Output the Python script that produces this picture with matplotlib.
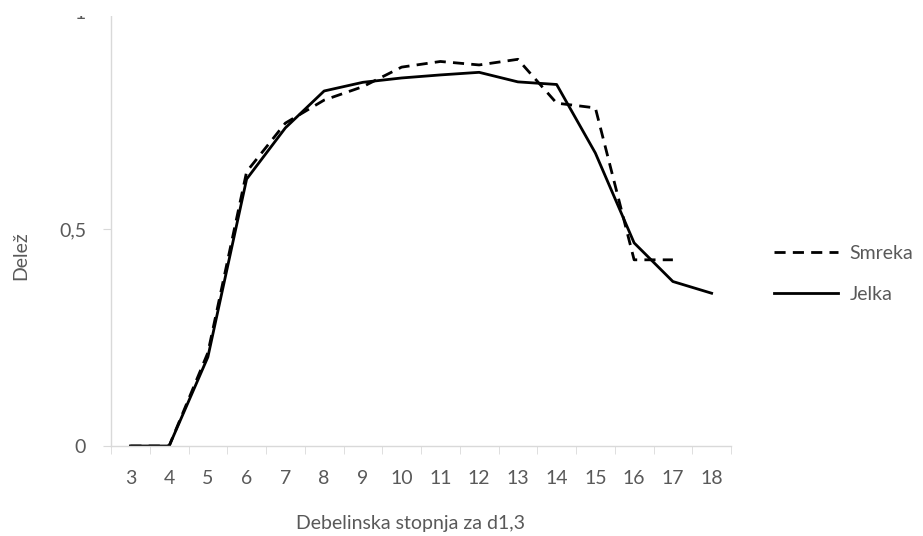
import numpy as np
import matplotlib.pyplot as plt
from matplotlib.patches import Rectangle

plt.rcParams['font.family'] = ['Lato', 'DejaVu Sans']

# Data
categories = ['3', '4', '5', '6', '7', '8', '9', '10', '11', '12', '13', '14', '15', '16', '17', '18']
smreka = [0.0, 0.0, 0.215, 0.632, 0.744, 0.797, 0.828, 0.873, 0.886, 0.878, 0.891, 0.790, 0.779, 0.429, 0.429]
jelka = [0.0, 0.0, 0.205, 0.615, 0.733, 0.818, 0.838, 0.848, 0.855, 0.861, 0.839, 0.833, 0.675, 0.468, 0.379, 0.352]
y_ticks = [0, 0.5, 1]
y_tick_labels = ['0', '0,5', '1']

W, H = 923, 536
fig = plt.figure(figsize=(W / 100, H / 100), dpi=100)
ax = fig.add_axes([111 / W, 1 - 446 / H, (731 - 111) / W, (446 - 12) / H])

x = np.arange(len(categories))
ax.plot(x[:len(smreka)], smreka, color='black', lw=2.0, ls=(0, (4, 2.6)), label='Smreka')
ax.plot(x[:len(jelka)], jelka, color='black', lw=2.0, label='Jelka')

ax.set_xlim(-0.5, len(categories) - 0.5)
ax.set_ylim(0, 1)

grey_axis = '#d9d9d9'
grey_text = '#595959'
for side in ['top', 'right']:
    ax.spines[side].set_visible(False)
for side in ['left', 'bottom']:
    ax.spines[side].set_color(grey_axis)
    ax.spines[side].set_linewidth(1.0)

ax.set_xticks(x)
ax.set_xticklabels(categories)
ax.set_xticks(np.arange(-0.5, len(categories)), minor=True)
ax.tick_params(axis='x', which='major', length=0, pad=17, labelsize=14, labelcolor=grey_text)
ax.tick_params(axis='x', which='minor', length=6, color=grey_axis, direction='out')
ax.set_yticks(y_ticks)
ax.set_yticklabels(y_tick_labels)
ax.tick_params(axis='y', length=6, color=grey_axis, pad=12, labelsize=14, labelcolor=grey_text)

fig.text(410 / W, 1 - 523 / H, 'Debelinska stopnja za d1,3', ha='center', va='center',
         fontsize=14, color=grey_text)
fig.text(21 / W, 1 - 256 / H, 'Delež', rotation=90, ha='center', va='center',
         fontsize=14, color=grey_text)

ax.legend(loc='center left', bbox_to_anchor=(756 / W, 1 - 274 / H), bbox_transform=fig.transFigure,
          frameon=False, fontsize=14, labelcolor=grey_text, handlelength=3.3, handletextpad=0.6,
          labelspacing=1.25)

# top edge of the original picture is cropped
fig.add_artist(Rectangle((0, 1 - 16 / H), 1, 16 / H, transform=fig.transFigure,
                         facecolor='white', edgecolor='none', zorder=10))

fig.savefig('out.png', dpi=100)
